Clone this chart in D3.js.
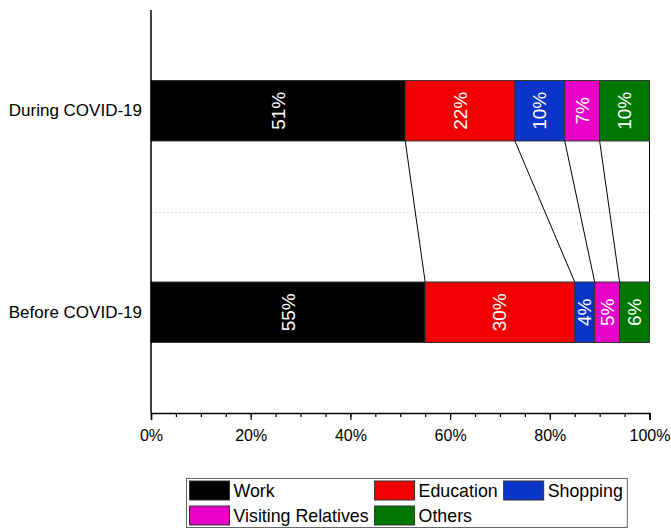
<!DOCTYPE html>
<html>
<head>
<meta charset="utf-8">
<script src="https://cdn.jsdelivr.net/npm/d3@7"></script>
<style>
  html, body { margin: 0; padding: 0; background: #fff; }
  svg { display: block; font-family: "Liberation Sans", Arial, sans-serif; }
</style>
</head>
<body>
<svg id="chart" width="671" height="528"></svg>
<script>
// Trip purpose shares (%), stacked left to right
const periods = ["During COVID-19", "Before COVID-19"];
const purposes = ["Work", "Education", "Shopping", "Visiting Relatives", "Others"];
const duringValues = [51, 22, 10, 7, 10];
const beforeValues = [55, 30, 4, 5, 6];
const purposeColors = ["#000000", "#f00000", "#0a34c8", "#e800c8", "#007800"];
const xTickValues = [0, 20, 40, 60, 80, 100];
const xMinorTicks = d3.range(0, 101, 5);

const svg = d3.select("#chart");

const x = d3.scaleLinear().domain([0, 100]).range([151, 649.5]);
const y = d3.scaleBand().domain(periods).range([10, 413])
  .paddingInner(0.7).paddingOuter(0.35);
const color = d3.scaleOrdinal().domain(purposes).range(purposeColors);

// Build stacked segments per period
function stackRow(period, values) {
  let acc = 0;
  return values.map((v, i) => {
    const seg = { period, purpose: purposes[i], value: v, x0: acc, x1: acc + v };
    acc += v;
    return seg;
  });
}
const rows = [stackRow(periods[0], duringValues), stackRow(periods[1], beforeValues)];

// Dotted separator between the two bars
const midY = (y(periods[0]) + y.bandwidth() / 2 + y(periods[1]) + y.bandwidth() / 2) / 2;
svg.append("line")
  .attr("x1", x(0)).attr("x2", x(100))
  .attr("y1", Math.round(midY) + 0.5).attr("y2", Math.round(midY) + 0.5)
  .attr("stroke", "#dcdcdc").attr("stroke-width", 1)
  .attr("stroke-dasharray", "2,2");

// Connector lines between matching cumulative boundaries
const topRow = rows[0], botRow = rows[1];
svg.append("g").selectAll("line")
  .data(topRow.map((d, i) => ({ a: d.x1, b: botRow[i].x1 })))
  .join("line")
  .attr("x1", d => x(d.a)).attr("y1", y(periods[0]) + y.bandwidth())
  .attr("x2", d => x(d.b)).attr("y2", y(periods[1]))
  .attr("stroke", "#000").attr("stroke-width", 1);

// Bars
const barG = svg.append("g");
rows.forEach(row => {
  const g = barG.append("g");
  g.selectAll("rect")
    .data(row)
    .join("rect")
    .attr("x", d => x(d.x0))
    .attr("y", d => y(d.period))
    .attr("width", d => x(d.x1) - x(d.x0))
    .attr("height", y.bandwidth())
    .attr("fill", d => color(d.purpose))
    .attr("stroke", "#333")
    .attr("stroke-width", 1);
  g.selectAll("text")
    .data(row)
    .join("text")
    .attr("transform", d => `translate(${(x(d.x0) + x(d.x1)) / 2},${y(d.period) + y.bandwidth() / 2}) rotate(-90)`)
    .attr("text-anchor", "middle")
    .attr("dominant-baseline", "central")
    .attr("fill", "#fff")
    .attr("font-size", "19px")
    .text(d => d.value + "%");
});

// Y axis (line only) and category labels
svg.append("line")
  .attr("x1", x(0)).attr("x2", x(0))
  .attr("y1", 10).attr("y2", 413)
  .attr("stroke", "#000").attr("stroke-width", 1.5);
svg.append("g").selectAll("text")
  .data(periods)
  .join("text")
  .attr("x", 142)
  .attr("y", d => y(d) + y.bandwidth() / 2)
  .attr("text-anchor", "end")
  .attr("dominant-baseline", "central")
  .attr("font-size", "17px")
  .attr("fill", "#000")
  .text(d => d);

// X axis with minor ticks
const xAxisG = svg.append("g").attr("transform", "translate(0,413)");
xAxisG.append("g")
  .call(d3.axisBottom(x).tickValues(xMinorTicks).tickSize(4).tickFormat(""))
  .call(g => g.select(".domain").remove())
  .selectAll("line").attr("stroke-width", 1.2);
const major = xAxisG.append("g")
  .call(d3.axisBottom(x).tickValues(xTickValues).tickSize(7).tickPadding(10)
    .tickFormat(d => d + "%"));
major.select(".domain").attr("stroke-width", 1.5);
major.selectAll("line").attr("stroke-width", 1.2);
major.selectAll("text")
  .attr("font-size", "16px")
  .attr("font-family", "'Liberation Sans', Arial, sans-serif")
  .attr("fill", "#000");

// Legend: two rows, columns sized to their widest label
const legendCols = 3;
const legendItems = purposes.map((p, i) => ({ name: p, col: i % legendCols, row: Math.floor(i / legendCols) }));
const legend = svg.append("g");
const legendX = 186, legendY = 478;
const swW = 40, swH = 19, gap = 4, colGap = 6, rowH = 25;
const labels = legend.selectAll("text.lbl")
  .data(legendItems)
  .join("text")
  .attr("class", "lbl")
  .attr("font-size", "17.8px")
  .attr("fill", "#000")
  .attr("dominant-baseline", "central")
  .text(d => d.name);
const widths = [];
labels.each(function (d) {
  const w = this.getComputedTextLength();
  widths[d.col] = Math.max(widths[d.col] || 0, w);
});
const colX = [];
let cx = legendX + 3.5;
for (let c = 0; c < legendCols; c++) {
  colX[c] = cx;
  cx += swW + gap + widths[c] + colGap;
}
const legendW = cx - colGap + 4 - legendX;
legend.insert("rect", ":first-child")
  .attr("x", legendX + 0.5).attr("y", legendY + 0.5)
  .attr("width", legendW).attr("height", 2 * rowH - 1)
  .attr("fill", "#fff").attr("stroke", "#666").attr("stroke-width", 1);
legend.selectAll("rect.sw")
  .data(legendItems)
  .join("rect")
  .attr("class", "sw")
  .attr("x", d => colX[d.col])
  .attr("y", d => legendY + 3 + d.row * rowH)
  .attr("width", swW).attr("height", swH)
  .attr("fill", d => color(d.name))
  .attr("stroke", "#333").attr("stroke-width", 1);
labels
  .attr("x", d => colX[d.col] + swW + gap)
  .attr("y", d => legendY + 3 + d.row * rowH + swH / 2);
</script>
</body>
</html>
